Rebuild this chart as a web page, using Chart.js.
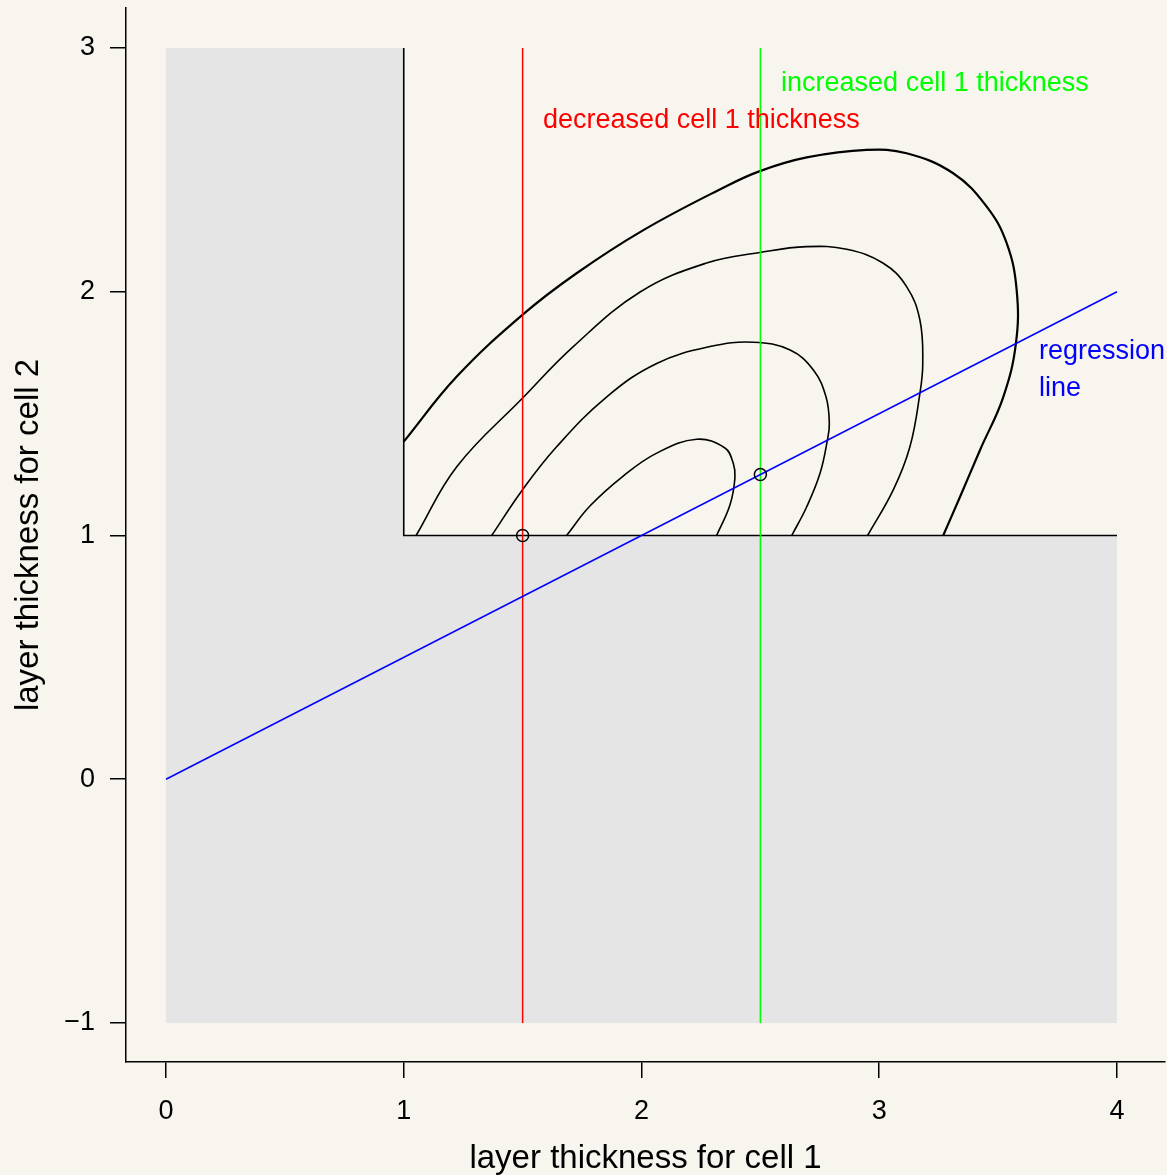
<!DOCTYPE html>
<html>
<head>
<meta charset="utf-8">
<title>layer thickness</title>
<script src="https://cdn.jsdelivr.net/npm/chart.js@4.4.1/dist/chart.umd.min.js"></script>
<style>
  html, body { margin: 0; padding: 0; background: #F8F4EE; }
  canvas { display: block; }
</style>
</head>
<body>
<canvas id="chart" width="1167" height="1175"></canvas>
<script>
// tick values
const xTicks = [0, 1, 2, 3, 4];
const yTicks = [-1, 0, 1, 2, 3];

// shaded (excluded) region, L shape
const regionX = [0, 4, 4, 1, 1, 0, 0];
const regionY = [-1, -1, 1, 1, 3, 3, -1];

// edge of the allowed region
const boundaryX = [1, 1, 4];
const boundaryY = [3, 1, 1];

// contours, inner to outer
const contour1X = [1.685, 1.783, 1.923, 2.064, 2.232, 2.351, 2.386, 2.393, 2.372, 2.316];
const contour1Y = [1.0, 1.121, 1.244, 1.338, 1.395, 1.359, 1.296, 1.236, 1.125, 1.0];

const contour2X = [1.370, 1.499, 1.643, 1.854, 2.064, 2.288, 2.470, 2.625, 2.723, 2.776, 2.790, 2.782, 2.751, 2.695, 2.632];
const contour2Y = [1.0, 1.187, 1.364, 1.569, 1.706, 1.775, 1.793, 1.761, 1.679, 1.569, 1.460, 1.392, 1.255, 1.118, 1.0];

const contour3X = [1.052, 1.223, 1.499, 1.713, 1.994, 2.274, 2.498, 2.695, 2.863, 3.017, 3.115, 3.171, 3.183, 3.171, 3.129, 3.059, 2.951];
const contour3Y = [1.0, 1.282, 1.563, 1.775, 1.999, 2.118, 2.161, 2.185, 2.174, 2.117, 2.021, 1.884, 1.706, 1.583, 1.364, 1.187, 1.0];

const contour4X = [1.0, 1.223, 1.499, 1.727, 2.008, 2.344, 2.498, 2.695, 2.947, 3.115, 3.311, 3.452, 3.536, 3.578, 3.575, 3.522, 3.424, 3.340, 3.269];
const contour4Y = [1.385, 1.652, 1.905, 2.076, 2.253, 2.427, 2.495, 2.551, 2.582, 2.568, 2.486, 2.349, 2.199, 2.007, 1.789, 1.569, 1.351, 1.159, 1.0];

// vertical lines and regression line
const decreasedX = [1.5, 1.5];
const decreasedY = [-1, 3];
const increasedX = [2.5, 2.5];
const increasedY = [-1, 3];
const regressionX = [0, 4];
const regressionY = [0, 2];

// marked points
const pointsX = [1.5, 2.5];
const pointsY = [1, 1.25];

const zip = (xs, ys) => xs.map((x, i) => ({ x: x, y: ys[i] }));

const FONT = "'Liberation Sans', Arial, Helvetica, sans-serif";

// text labels in data coordinates (left edge, baseline)
const notes = [
    { text: 'decreased cell 1 thickness', x: 1.586, y: 2.672, color: '#FF0000' },
    { text: 'increased cell 1 thickness', x: 2.587, y: 2.824, color: '#00FF00' },
    { text: 'regression', x: 3.672, y: 1.724, color: '#0000FF' },
    { text: 'line', x: 3.672, y: 1.572, color: '#0000FF' }
];

const background = {
    id: 'background',
    beforeDraw(chart) {
        const ctx = chart.ctx;
        ctx.save();
        ctx.fillStyle = '#F8F4EE';
        ctx.fillRect(0, 0, chart.width, chart.height);
        ctx.restore();
    }
};

const labels = {
    id: 'labels',
    afterDatasetsDraw(chart) {
        const ctx = chart.ctx;
        const xs = chart.scales.x, ys = chart.scales.y;
        ctx.save();
        ctx.font = '27px ' + FONT;
        ctx.textAlign = 'left';
        ctx.textBaseline = 'alphabetic';
        notes.forEach(n => {
            ctx.fillStyle = n.color;
            ctx.fillText(n.text, xs.getPixelForValue(n.x), ys.getPixelForValue(n.y));
        });
        ctx.restore();
    }
};

function lineSet(xs, ys, color, width) {
    return {
        data: zip(xs, ys),
        showLine: true,
        borderColor: color,
        borderWidth: width,
        pointRadius: 0,
        fill: false,
        tension: 0
    };
}

function contourSet(xs, ys, width) {
    const ds = lineSet(xs, ys, '#000000', width);
    ds.tension = 0.4;
    return ds;
}

// no extra room for edge labels, the plot box is fixed
function noPadding(scale) {
    scale.paddingTop = 0;
    scale.paddingBottom = 0;
    scale.paddingLeft = 0;
    scale.paddingRight = 0;
}

const gridOpts = { display: true, drawOnChartArea: false, drawTicks: true, tickLength: 16, color: '#000000', lineWidth: 1.5 };
const borderOpts = { display: true, color: '#000000', width: 1.5 };
const tickLabel = v => v < 0 ? '\u2212' + Math.abs(v) : String(v);

new Chart(document.getElementById('chart'), {
    type: 'scatter',
    data: {
        datasets: [
            {
                data: zip(pointsX, pointsY),
                showLine: false,
                pointRadius: 6,
                pointBorderWidth: 1.5,
                pointBorderColor: '#000000',
                pointBackgroundColor: 'rgba(0,0,0,0)'
            },
            lineSet(regressionX, regressionY, '#0000FF', 1.5),
            lineSet(increasedX, increasedY, '#00FF00', 1.5),
            lineSet(decreasedX, decreasedY, '#FF0000', 1.5),
            contourSet(contour1X, contour1Y, 1.6),
            contourSet(contour2X, contour2Y, 1.6),
            contourSet(contour3X, contour3Y, 1.6),
            contourSet(contour4X, contour4Y, 2.2),
            lineSet(boundaryX, boundaryY, '#000000', 1.6),
            {
                data: zip(regionX, regionY),
                showLine: true,
                borderWidth: 0,
                borderColor: 'rgba(0,0,0,0)',
                backgroundColor: '#E5E5E5',
                pointRadius: 0,
                fill: 'shape',
                tension: 0
            }
        ]
    },
    options: {
        responsive: false,
        devicePixelRatio: 1,
        animation: false,
        layout: { autoPadding: false, padding: { top: 8, right: 2, left: 0, bottom: 0 } },
        plugins: {
            legend: { display: false },
            tooltip: { enabled: false }
        },
        scales: {
            x: {
                type: 'linear',
                min: -0.1682,
                max: 4.2019,
                grid: gridOpts,
                border: borderOpts,
                ticks: { color: '#000000', font: { family: FONT, size: 27 }, padding: 17, callback: tickLabel },
                title: {
                    display: true,
                    text: 'layer thickness for cell 1',
                    color: '#000000',
                    font: { family: FONT, size: 33, lineHeight: 1 },
                    padding: { top: 0, bottom: 0 }
                },
                afterBuildTicks: scale => { scale.ticks = xTicks.map(v => ({ value: v })); },
                afterFit: scale => { scale.height = 113; noPadding(scale); }
            },
            y: {
                type: 'linear',
                min: -1.16,
                max: 3.1641,
                grid: gridOpts,
                border: borderOpts,
                ticks: { color: '#000000', font: { family: FONT, size: 27 }, padding: 15, callback: tickLabel },
                title: {
                    display: true,
                    text: 'layer thickness for cell 2',
                    color: '#000000',
                    font: { family: FONT, size: 33 },
                    padding: { top: 9, bottom: 0 }
                },
                afterBuildTicks: scale => { scale.ticks = yTicks.map(v => ({ value: v })); },
                afterFit: scale => { scale.width = 126; noPadding(scale); }
            }
        }
    },
    plugins: [background, labels]
});
</script>
</body>
</html>
